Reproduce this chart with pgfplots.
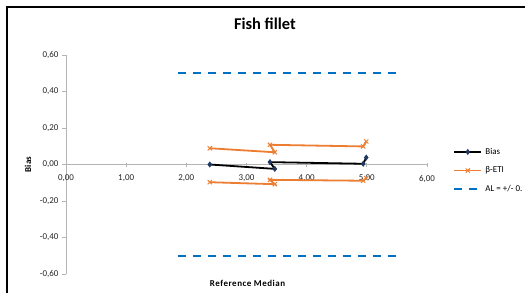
\documentclass[border=0pt]{standalone}
\usepackage{fontspec}
\setmainfont{Carlito}
\usepackage{pgfplots}
\pgfplotsset{compat=1.18}
\definecolor{xlorange}{RGB}{237,125,49}
\definecolor{xlblue}{RGB}{0,112,192}
\definecolor{xlnavy}{RGB}{31,56,100}
\definecolor{axgray}{RGB}{180,180,180}
\begin{document}
\begin{tikzpicture}
\path[use as bounding box] (0,0) rectangle (525bp,293bp);
\fill[white] (-6bp,-6bp) rectangle (535bp,300bp);
\draw[line width=1.5bp] (7bp,-3bp) -- (7bp,286bp) -- (535bp,286bp);
\begin{axis}[
  at={(66bp,19bp)}, anchor=south west,
  scale only axis, width=361bp, height=219bp,
  xmin=0, xmax=6, ymin=-0.6, ymax=0.6,
  axis lines=middle,
  hide obscured x ticks=false, hide obscured y ticks=false,
  axis line style={axgray, line width=0.8bp, -},
  xtick={0,1,2,3,4,5,6},
  ytick={-0.6,-0.4,-0.2,0,0.2,0.4,0.6},
  tick style={axgray, line width=0.8bp},
  major tick length=4bp,
  xtick align=center, ytick align=outside,
  ticklabel style={font=\fontsize{9}{10}\selectfont, text=black!85},
  xticklabel style={yshift=-5bp},
  /pgf/number format/.cd, use comma, fixed, fixed zerofill, precision=2,
  /pgf/number format/assume math mode=true,
  /pgfplots/.cd,
  title={Fish fillet},
  title style={at={(0.551,1.114)}, anchor=center, font=\bfseries\fontsize{16.5}{18}\selectfont},
  xlabel={Reference Median},
  xlabel style={at={(0.503,-0.041)}, anchor=center, font=\bfseries\fontsize{9}{10}\selectfont\addfontfeatures{LetterSpace=6}},
  ylabel={Bias},
  ylabel style={at={(-0.105,0.5)}, anchor=center, rotate=90, font=\bfseries\fontsize{9}{10}\selectfont},
  clip=false,
  legend style={draw=none, fill=none, at={(1.072,0.585)}, anchor=north west,
    font=\fontsize{9}{10}\selectfont, inner sep=0pt, row sep=7bp,
    /tikz/every odd column/.append style={column sep=1bp}},
  legend cell align=left,
  legend image code/.code={\draw[mark repeat=2,mark phase=2,#1] plot coordinates {(0bp,0bp) (13.5bp,0bp) (27bp,0bp)};},
]
\addplot[black, line width=1.8bp, mark=diamond*, mark size=1.6bp, mark options={xlnavy, fill=xlnavy, solid}]
  coordinates {(2.39,0.000) (3.47,-0.024) (3.39,0.013) (4.94,0.004) (4.99,0.038)};
\addlegendentry{Bias}
\addplot[xlorange, line width=1.8bp, mark=x, mark size=3bp, mark options={line width=1bp}]
  coordinates {(2.39,0.089) (3.47,0.067) (3.39,0.108) (4.94,0.099) (4.99,0.126)};
\addlegendentry{β-ETI}
\addplot[xlorange, line width=1.8bp, mark=x, mark size=3bp, mark options={line width=1bp}, forget plot]
  coordinates {(2.39,-0.097) (3.47,-0.108) (3.39,-0.084) (4.94,-0.089) (4.99,-0.075)};
\addplot[xlblue, line width=2.2bp, dash pattern=on 8bp off 7bp]
  coordinates {(1.86,0.5) (5.51,0.5)};
\addlegendentry{AL = +/- 0.}
\addplot[xlblue, line width=2.2bp, dash pattern=on 8bp off 7bp, forget plot]
  coordinates {(1.86,-0.5) (5.51,-0.5)};
\end{axis}
\end{tikzpicture}
\end{document}
